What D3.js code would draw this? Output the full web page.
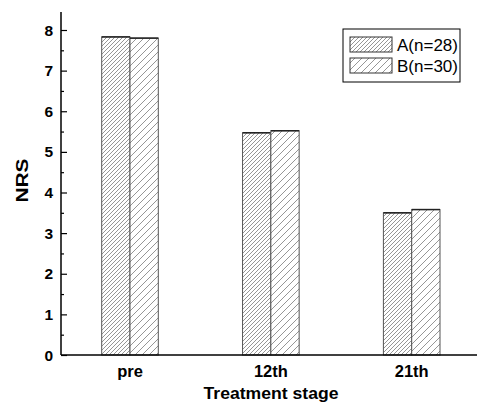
<!DOCTYPE html>
<html><head><meta charset="utf-8">
<script src="https://cdn.jsdelivr.net/npm/d3@7"></script>
<style>body{margin:0;background:#fff}</style>
</head><body>
<script>
const categories = ["pre", "12th", "21th"];
const seriesNames = ["A(n=28)", "B(n=30)"];
const valuesA = [7.83, 5.47, 3.50];
const valuesB = [7.80, 5.52, 3.58];
const yTicks = [0,1,2,3,4,5,6,7,8];

const W = 477, H = 406;
const FF = "Liberation Sans, Arial, sans-serif";
const svg = d3.select("body").append("svg").attr("width", W).attr("height", H);
const defs = svg.append("defs");
function hatch(id, size, color){
  const p = defs.append("pattern").attr("id", id).attr("patternUnits","userSpaceOnUse")
    .attr("width", size).attr("height", size);
  p.append("rect").attr("width", size).attr("height", size).attr("fill","#fff");
  p.append("path").attr("d", `M0,${size} L${size},0 M${-size/2},${size/2} L${size/2},${-size/2} M${size/2},${size*1.5} L${size*1.5},${size/2}`)
    .attr("stroke", color).attr("stroke-width", 0.9);
  return `url(#${id})`;
}
const fillA = hatch("hA", 4, "#8a8a8a");
const fillB = hatch("hB", 7, "#8a8a8a");

const x0 = 61, y0 = 355, yTop = 12;
const y = d3.scaleLinear().domain([0, 8]).range([y0, 30]);
const x = d3.scalePoint().domain(categories).range([130, 411.7]);
const bw = 28.3;

const g = svg.append("g");
const data = categories.map((c,i)=>({c, a: valuesA[i], b: valuesB[i]}));
data.forEach(d=>{
  const cx = x(d.c);
  [[d.a, cx-bw, fillA],[d.b, cx, fillB]].forEach(([v, xl, f])=>{
    g.append("rect").attr("x", xl).attr("y", y(v)).attr("width", bw).attr("height", y0-y(v))
      .attr("fill", f).attr("stroke","#555").attr("stroke-width",1);
    g.append("line").attr("x1", xl).attr("x2", xl+bw).attr("y1", y(v)).attr("y2", y(v))
      .attr("stroke","#222").attr("stroke-width",1.5);
  });
});

// y axis
const yAxis = d3.axisRight(y).tickValues(yTicks).tickSize(6).tickFormat("");
const ya = svg.append("g").attr("transform", `translate(${x0},0)`).call(yAxis);
ya.select(".domain").remove();
ya.selectAll("line").attr("stroke","#000").attr("stroke-width",1.2);
const minor = yTicks.slice(0,-1).map(t=>t+0.5);
svg.append("g").attr("transform", `translate(${x0},0)`)
  .call(d3.axisRight(y).tickValues(minor).tickSize(3).tickFormat(""))
  .call(s=>{s.select(".domain").remove(); s.selectAll("line").attr("stroke","#000").attr("stroke-width",1.2);});
svg.append("line").attr("x1",x0).attr("x2",x0).attr("y1",yTop).attr("y2",y0).attr("stroke","#000").attr("stroke-width",1.5);
svg.append("line").attr("x1",x0).attr("x2",W).attr("y1",y0).attr("y2",y0).attr("stroke","#000").attr("stroke-width",1.5);

svg.append("g").selectAll("text").data(yTicks).join("text")
  .attr("x", 53).attr("y", d=>y(d)+5.5).attr("text-anchor","end")
  .attr("font-family",FF).attr("font-weight","bold").attr("font-size",15.5)
  .text(d=>d);

svg.append("g").selectAll("text").data(categories).join("text")
  .attr("x", d=>x(d)).attr("y", 377).attr("text-anchor","middle")
  .attr("font-family",FF).attr("font-weight","bold").attr("font-size",16.5)
  .text(d=>d);

svg.append("text").attr("x", 271).attr("y", 399).attr("text-anchor","middle")
  .attr("font-family",FF).attr("font-weight","bold").attr("font-size",16.5)
  .attr("textLength",135).attr("lengthAdjust","spacingAndGlyphs")
  .text("Treatment stage");
svg.append("text").attr("transform","translate(28,180.5) rotate(-90)").attr("text-anchor","middle")
  .attr("font-family",FF).attr("font-weight","bold").attr("font-size",16.5)
  .attr("textLength",44).attr("lengthAdjust","spacingAndGlyphs")
  .text("NRS");

// legend
const lg = svg.append("g");
lg.append("rect").attr("x",343).attr("y",29).attr("width",117).attr("height",53)
  .attr("fill","#fff").attr("stroke","#000").attr("stroke-width",1);
[fillA, fillB].forEach((f,i)=>{
  const yy = 37 + i*21;
  lg.append("rect").attr("x",350).attr("y",yy).attr("width",42).attr("height",15)
    .attr("fill", f).attr("stroke","#333").attr("stroke-width",1);
  lg.append("text").attr("x",397).attr("y",yy+14)
    .attr("font-family",FF).attr("font-size",17)
    .text(seriesNames[i]);
});
</script>
</body></html>
